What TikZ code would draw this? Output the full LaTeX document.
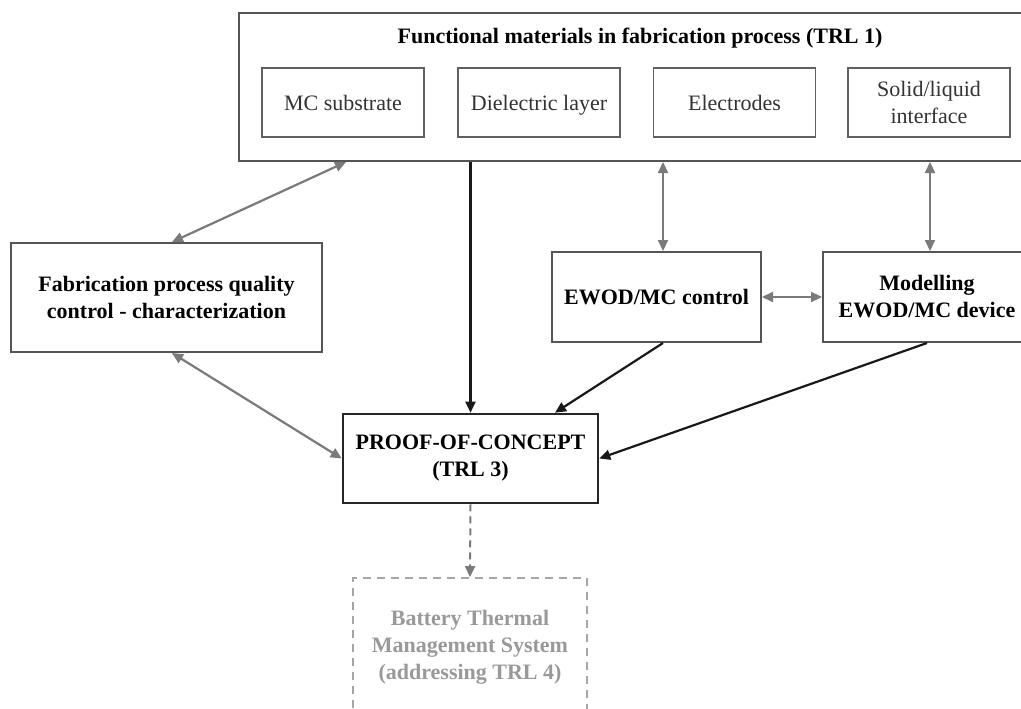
\documentclass[tikz,border=0pt]{standalone}
\usepackage{fontspec}
\setmainfont{Liberation Serif}
\usetikzlibrary{arrows.meta,calc}
\definecolor{garrow}{HTML}{7A7A7A}
\definecolor{boxgray}{HTML}{555555}
\definecolor{subgray}{HTML}{606060}
\definecolor{txtgray}{HTML}{333333}
\definecolor{lightgray}{HTML}{A6A6A6}
\definecolor{lighttxt}{HTML}{999999}
\tikzset{
  outerbox/.style={draw=boxgray, line width=2pt, minimum width=794pt, minimum height=148pt, inner sep=0pt},
  titletext/.style={font=\bfseries\fontsize{22}{27}\selectfont, inner sep=0pt},
  subbox/.style={draw=subgray, line width=1.8pt, minimum width=162pt, minimum height=69pt, align=center, text=txtgray, inner sep=2pt, font=\fontsize{22}{27}\selectfont},
  midbox/.style={draw=boxgray, line width=2pt, align=center, inner sep=2pt, font=\bfseries\fontsize{22}{27}\selectfont},
  proofbox/.style={draw=black!85, line width=2.6pt, align=center, inner sep=2pt, minimum width=255pt, minimum height=89pt, font=\bfseries\fontsize{22}{27}\selectfont},
  batbox/.style={draw=lightgray, line width=1.8pt, dash pattern=on 8pt off 6pt, align=center, inner sep=2pt, minimum width=234pt, minimum height=138pt, text=lighttxt, font=\bfseries\fontsize{22}{27}\selectfont},
  tip/.style={>={Triangle[length=11pt,width=10pt]}},
  gdbl/.style={draw=garrow, line width=2.2pt, tip, <->},
  barr/.style={draw=black!90, line width=2.2pt, tip, ->},
  darr/.style={draw=garrow, line width=2pt, dash pattern=on 7pt off 5pt, tip, ->},
}
\begin{document}
\begin{tikzpicture}[x=1pt,y=-1pt]
\useasboundingbox (0,0) rectangle (1021,709);
\clip (0,0) rectangle (1021,709);
\fill[white] (0,0) rectangle (1021,709);

% top group
\node[outerbox] (top) at (636,87) {};
\node[titletext] (title) at (640,38) {Functional materials in fabrication process (TRL 1)};
\node[subbox] (mc) at (343,102.5) {MC substrate};
\node[subbox, text depth=0pt] (diel) at (539,102.5) {Dielectric layer};
\node[subbox] (elec) at (734.5,102.5) {Electrodes};
\node[subbox] (sol) at (929,102.5) {Solid/liquid\\interface};

% middle
\node[midbox, minimum width=311pt, minimum height=109pt] (fab) at (166.5,297.5) {Fabrication process quality\\control - characterization};
\node[midbox, minimum width=209pt, minimum height=90pt] (ewod) at (656.5,297) {EWOD/MC control};
\node[midbox, minimum width=208pt, minimum height=90pt] (model) at (927,297) {Modelling\\EWOD/MC device};

% bottom
\node[proofbox] (proof) at (470.5,458.5) {PROOF-OF-CONCEPT\\(TRL 3)};
\node[batbox] (bat) at (470,647) {Battery Thermal\\Management System\\(addressing TRL 4)};

% connectors
\coordinate (tA) at ($(top.south west)+(108,0)$);
\coordinate (fN) at ($(fab.north)+(5.5,0)$);
\coordinate (fS) at ($(fab.south)+(5.5,0)$);
\coordinate (eN) at ($(ewod.north)+(6.5,0)$);
\coordinate (eS) at ($(ewod.south)+(6.5,0)$);
\coordinate (mN) at ($(model.north)+(3,0)$);
\coordinate (pN) at ($(proof.north)+(84.5,0)$);

\draw[gdbl] (tA) -- (fN);
\draw[gdbl] (fS) -- (proof.west);
\draw[barr] (top.south -| proof.north) -- (proof.north);
\draw[gdbl] (eN |- top.south) -- (eN);
\draw[gdbl] (mN |- top.south) -- (mN);
\draw[gdbl] (ewod.east) -- (model.west);
\draw[barr] (eS) -- (pN);
\draw[barr] (model.south) -- (proof.east);
\draw[darr] (proof.south) -- (bat.north);
\end{tikzpicture}
\end{document}
